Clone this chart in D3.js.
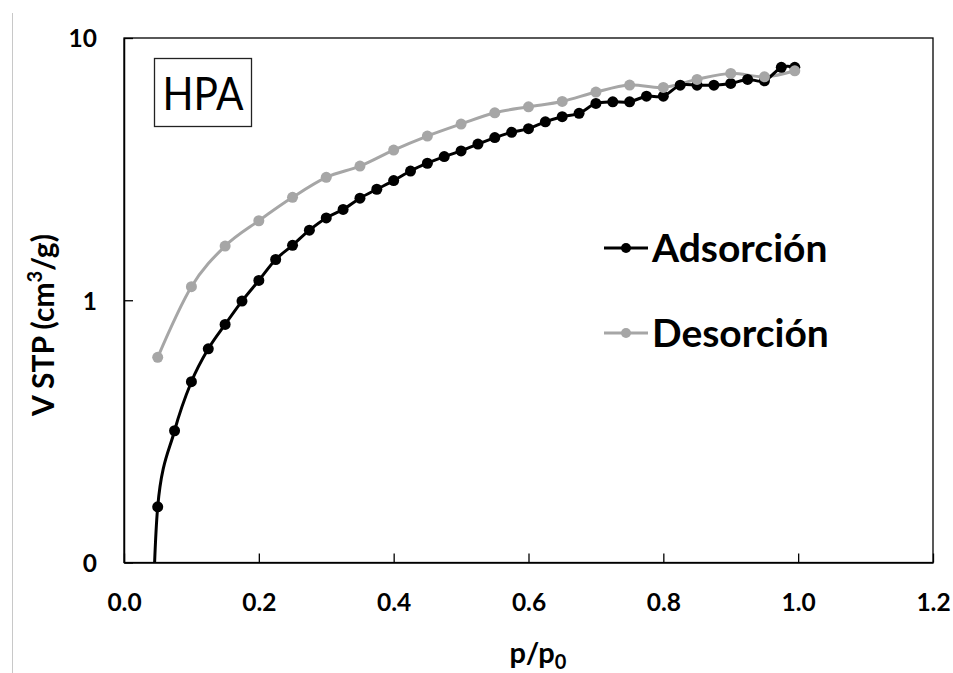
<!DOCTYPE html>
<html>
<head>
<meta charset="utf-8">
<script src="https://cdn.jsdelivr.net/npm/d3@7"></script>
<style>
  html, body { margin: 0; padding: 0; background: #fff; }
  svg { display: block; font-family: Lato, "Open Sans", sans-serif; }
</style>
</head>
<body>
<svg id="chart" width="953" height="673"></svg>
<script>
// Relative pressure (p/p0) and adsorbed volume (cm3/g STP), adsorption branch
const adsP = [0.04, 0.05, 0.075, 0.1, 0.125, 0.15, 0.175, 0.2, 0.225, 0.25, 0.275,
  0.3, 0.325, 0.35, 0.375, 0.4, 0.425, 0.45, 0.475, 0.5, 0.525, 0.55, 0.575, 0.6,
  0.625, 0.65, 0.675, 0.7, 0.725, 0.75, 0.775, 0.8, 0.825, 0.85, 0.875, 0.9, 0.925,
  0.95, 0.975, 0.995];
const adsV = [0.03, 0.163, 0.318, 0.489, 0.653, 0.809, 0.993, 1.19, 1.43, 1.62, 1.85,
  2.06, 2.22, 2.45, 2.65, 2.86, 3.11, 3.33, 3.53, 3.71, 3.94, 4.17, 4.37, 4.51,
  4.79, 5.01, 5.16, 5.63, 5.71, 5.71, 6.00, 6.00, 6.61, 6.61, 6.61, 6.71, 6.95,
  6.87, 7.73, 7.73];

// Desorption branch
const desP = [0.05, 0.1, 0.15, 0.2, 0.25, 0.3, 0.35, 0.4, 0.45, 0.5, 0.55, 0.6,
  0.65, 0.7, 0.75, 0.8, 0.85, 0.9, 0.95, 0.995];
const desV = [0.606, 1.126, 1.609, 2.01, 2.468, 2.942, 3.248, 3.738, 4.227, 4.697,
  5.186, 5.466, 5.73, 6.22, 6.613, 6.481, 6.953, 7.33, 7.11, 7.5];

// Axis ticks
const xMajorTicks = [0, 0.2, 0.4, 0.6, 0.8, 1.0, 1.2];
const yMajorTicks = [0.1, 1, 10];
const seriesNames = ["Adsorción", "Desorción"];
const sampleName = "HPA";

const svg = d3.select("#chart");
const box = { left: 124, right: 933, top: 38, bottom: 562.5 };

const x = d3.scaleLinear().domain([0, 1.2]).range([box.left, box.right]);
const y = d3.scaleLog().domain([0.1, 10]).range([box.bottom, box.top]);

const xMinorTicks = d3.range(1, 30).map(i => i * 0.04)
  .filter(v => Math.abs(v / 0.2 - Math.round(v / 0.2)) > 1e-6);
const yMinorTicks = [];
[0.1, 1].forEach(base => { for (let k = 2; k <= 9; k++) yMinorTicks.push(base * k); });

// thin frame line at the far left of the figure
svg.append("line")
  .attr("x1", 12.5).attr("x2", 12.5).attr("y1", 13).attr("y2", 673)
  .attr("stroke", "#c8c8c8").attr("stroke-width", 1);

// plot frame
svg.append("rect")
  .attr("x", box.left).attr("y", box.top)
  .attr("width", box.right - box.left).attr("height", box.bottom - box.top)
  .attr("fill", "none").attr("stroke", "#000").attr("stroke-width", 1.3);

// axes
const gx = svg.append("g").attr("transform", `translate(0,${box.bottom})`);
gx.call(d3.axisBottom(x).tickValues(xMinorTicks).tickSize(-6).tickSizeOuter(0).tickFormat(""));
gx.call(d3.axisBottom(x).tickValues(xMajorTicks).tickSize(-9).tickSizeOuter(0)
  .tickFormat(d3.format(".1f")));
gx.selectAll("text")
  .attr("y", 48).attr("dy", null)
  .attr("font-family", "Lato, sans-serif").attr("font-weight", 700)
  .attr("font-size", 24.5).attr("fill", "#000");

const gy = svg.append("g").attr("transform", `translate(${box.left},0)`);
gy.call(d3.axisLeft(y).tickValues(yMinorTicks).tickSize(-7).tickSizeOuter(0).tickFormat(""));
gy.call(d3.axisLeft(y).tickValues(yMajorTicks).tickSize(-9).tickSizeOuter(0)
  .tickPadding(27).tickFormat(d3.format(".0f")));
gy.selectAll("text")
  .attr("dy", "0.36em")
  .attr("font-family", "Lato, sans-serif").attr("font-weight", 700)
  .attr("font-size", 24.5).attr("fill", "#000");

svg.selectAll(".domain").attr("stroke", "#000").attr("stroke-width", 1.5);
svg.selectAll(".tick line").attr("stroke", "#000").attr("stroke-width", 1.3);

// axis titles
const yTitle = svg.append("text")
  .attr("transform", "translate(54,325) rotate(-90)")
  .attr("text-anchor", "middle")
  .attr("font-weight", 700).attr("font-size", 30).attr("fill", "#000");
yTitle.append("tspan").text("V STP (cm");
yTitle.append("tspan").attr("font-size", 20).attr("dy", -12).text("3");
yTitle.append("tspan").attr("dy", 12).text("/g)");

const xTitle = svg.append("text")
  .attr("x", 538).attr("y", 663)
  .attr("text-anchor", "middle")
  .attr("font-weight", 700).attr("font-size", 29).attr("fill", "#000");
xTitle.append("tspan").text("p/p");
xTitle.append("tspan").attr("font-size", 20).attr("dy", 6).text("0");

// data
svg.append("clipPath").attr("id", "plot-clip")
  .append("rect")
  .attr("x", box.left).attr("y", box.top)
  .attr("width", box.right - box.left).attr("height", box.bottom - box.top);

const plot = svg.append("g").attr("clip-path", "url(#plot-clip)");

const ads = adsP.map((p, i) => ({ p, v: adsV[i] }));
const des = desP.map((p, i) => ({ p, v: desV[i] }));

const line = d3.line().x(d => x(d.p)).y(d => y(d.v)).curve(d3.curveCardinal.tension(0));

const colors = ["#000000", "#a6a6a6"];

plot.append("path").datum(des).attr("d", line)
  .attr("fill", "none").attr("stroke", colors[1]).attr("stroke-width", 3);
plot.append("path").datum(ads).attr("d", line)
  .attr("fill", "none").attr("stroke", colors[0]).attr("stroke-width", 3);

plot.append("g").selectAll("circle").data(ads).join("circle")
  .attr("cx", d => x(d.p)).attr("cy", d => y(d.v)).attr("r", 5.5)
  .attr("fill", colors[0]);
plot.append("g").selectAll("circle").data(des).join("circle")
  .attr("cx", d => x(d.p)).attr("cy", d => y(d.v)).attr("r", 5.5)
  .attr("fill", colors[1]);

// legend
const legend = svg.append("g");
seriesNames.forEach((name, i) => {
  const ly = 248 + i * 85;
  legend.append("line").attr("x1", 604).attr("x2", 648).attr("y1", ly).attr("y2", ly)
    .attr("stroke", colors[i]).attr("stroke-width", 3);
  legend.append("circle").attr("cx", 626).attr("cy", ly).attr("r", 5).attr("fill", colors[i]);
  legend.append("text").attr("x", 652).attr("y", ly + 14)
    .attr("font-weight", 700).attr("font-size", 39).attr("fill", "#000").text(name);
});

// sample label
svg.append("rect").attr("x", 154.5).attr("y", 58.5).attr("width", 97).attr("height", 68)
  .attr("fill", "#fff").attr("stroke", "#222").attr("stroke-width", 1.3);
svg.append("text").attr("x", 203).attr("y", 110).attr("text-anchor", "middle")
  .attr("font-weight", 400).attr("font-size", 47).attr("fill", "#000")
  .attr("textLength", 81).attr("lengthAdjust", "spacingAndGlyphs")
  .text(sampleName);
</script>
</body>
</html>
